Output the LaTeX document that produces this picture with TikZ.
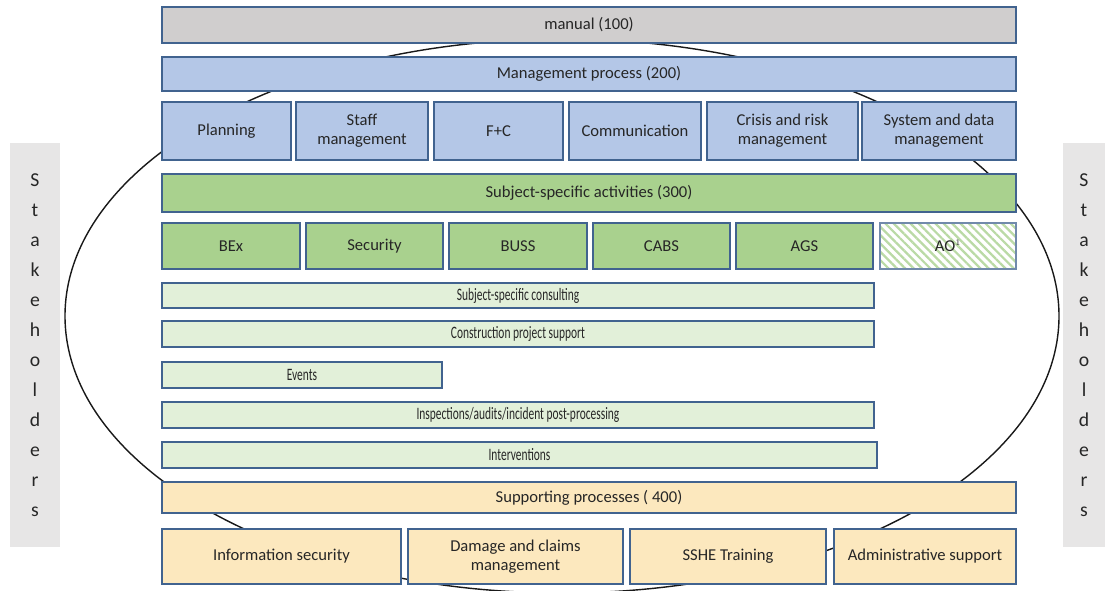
\documentclass[tikz,border=0pt]{standalone}
\usepackage{fontspec}
\usepackage{graphicx}
\setmainfont{Carlito}
\usetikzlibrary{patterns.meta}

\definecolor{frameblue}{HTML}{41638F}
\definecolor{manualgray}{HTML}{D0CECE}
\definecolor{mgmtblue}{HTML}{B4C7E7}
\definecolor{subjgreen}{HTML}{A9D18E}
\definecolor{lightgreen}{HTML}{E2F0D9}
\definecolor{supyellow}{HTML}{FCE8BE}
\definecolor{stakegray}{HTML}{E7E6E6}
\definecolor{txt}{HTML}{262626}

\tikzset{
  box/.style={draw=frameblue, line width=1pt, inner sep=1pt, align=center,
    text=txt, font=\fontsize{11.8}{13.5}\selectfont},
  mgmtbox/.style={box, fill=mgmtblue},
  subjbox/.style={box, fill=subjgreen},
  taskbar/.style={box, fill=lightgreen, minimum height=0.65cm},
  supbox/.style={box, fill=supyellow},
  stakebox/.style={fill=stakegray, text=txt, align=center,
    font=\fontsize{14}{21.3}\selectfont}
}
\newcommand{\narrow}[1]{\scalebox{0.69}[1.05]{#1}}

\begin{document}
\begin{tikzpicture}[x=0.025cm, y=-0.025cm]
        \useasboundingbox (0,0) rectangle (1105,591);

        % stakeholders on both sides
        \node (stakeL) at (35,345) [stakebox, minimum width=1.25cm, minimum height=10.1cm]
            {S\\t\\a\\k\\e\\h\\o\\l\\d\\e\\r\\s};
        \node (stakeR) at (1084,345) [stakebox, minimum width=1.05cm, minimum height=10.1cm]
            {S\\t\\a\\k\\e\\h\\o\\l\\d\\e\\r\\s};

        \draw[line width=1pt, black!90] (562,316) ellipse [x radius=497, y radius=277];

        \node (manual) at (589,25) [box, fill=manualgray, minimum width=21.35cm, minimum height=0.9cm] {manual (100)};
        \node (mgmt) at (589,74) [mgmtbox, minimum width=21.35cm, minimum height=0.85cm] {Management process (200)};

        \node (plan) at (226.5,131) [mgmtbox, minimum width=3.225cm, minimum height=1.45cm] {Planning};
        \node (staff) at (362,131) [mgmtbox, minimum width=3.3cm, minimum height=1.45cm] {Staff\\management};
        \node (fc) at (498.5,131) [mgmtbox, minimum width=3.225cm, minimum height=1.45cm] {F+C};
        \node (comm) at (635,131) [mgmtbox, minimum width=3.3cm, minimum height=1.45cm] {Communication};
        \node (crisis) at (782.5,131) [mgmtbox, minimum width=3.775cm, minimum height=1.45cm] {Crisis and risk\\management};
        \node (sysdata) at (939,131) [mgmtbox, minimum width=3.85cm, minimum height=1.45cm] {System and data\\management};

        \node (subj) at (589,193) [subjbox, minimum width=21.35cm, minimum height=0.95cm] {Subject-specific activities (300)};

        \node (bex) at (231,246) [subjbox, minimum width=3.45cm, minimum height=1.15cm] {BEx};
        \node (security) at (374.5,246) [subjbox, minimum width=3.425cm, minimum height=1.15cm] {Security};
        \node (buss) at (518,246) [subjbox, minimum width=3.45cm, minimum height=1.15cm] {BUSS};
        \node (cabs) at (661.5,246) [subjbox, minimum width=3.425cm, minimum height=1.15cm] {CABS};
        \node (ags) at (804.5,246) [subjbox, minimum width=3.425cm, minimum height=1.15cm] {AGS};
        \node (ao) at (948,246) [box, draw=frameblue!75, minimum width=3.4cm, minimum height=1.15cm,
            preaction={fill=white}, pattern={Lines[angle=-45,distance=4.2pt,line width=1.6pt]},
            pattern color=subjgreen!80] {AO$^{\scriptscriptstyle 1}$};

        \node (consult) at (518,295.5) [taskbar, minimum width=17.8cm, minimum height=0.625cm] {\narrow{Subject-specific consulting}};
        \node (construct) at (518,334) [taskbar, minimum width=17.8cm] {\narrow{Construction project support}};
        \node (events) at (302,375) [taskbar, minimum width=7cm] {\narrow{Events}};
        \node (inspect) at (518,415) [taskbar, minimum width=17.8cm] {\narrow{Inspections/audits/incident post-processing}};
        \node (interv) at (519.5,455) [taskbar, minimum width=17.875cm] {\narrow{Interventions}};

        \node (support) at (589,497.5) [supbox, minimum width=21.35cm, minimum height=0.775cm] {Supporting processes ( 400)};

        \node (infosec) at (281.5,556.5) [supbox, minimum width=5.975cm, minimum height=1.375cm] {Information security};
        \node (damage) at (515.5,556.5) [supbox, minimum width=5.375cm, minimum height=1.375cm] {Damage and claims\\management};
        \node (sshe) at (728,556.5) [supbox, minimum width=4.9cm, minimum height=1.375cm] {SSHE Training};
        \node (admin) at (925,556.5) [supbox, minimum width=4.55cm, minimum height=1.375cm] {Administrative support};
    \end{tikzpicture}
\end{document}
